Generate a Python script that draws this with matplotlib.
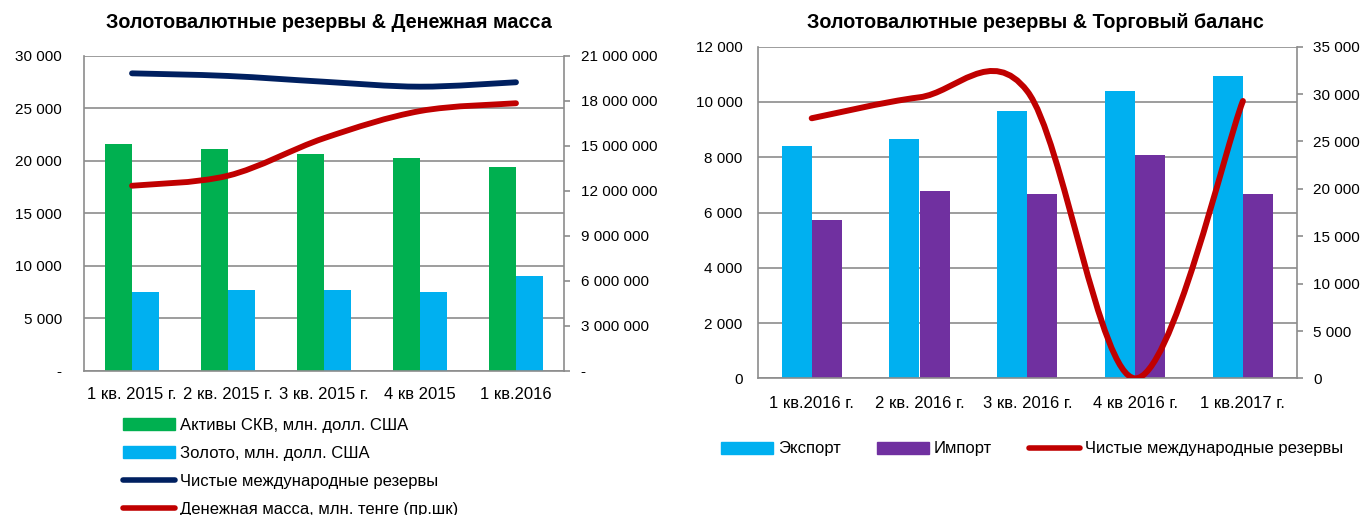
import matplotlib
matplotlib.use("Agg")
import matplotlib.pyplot as plt
from matplotlib.path import Path
from matplotlib.patches import PathPatch, Patch
from matplotlib.lines import Line2D
from matplotlib.ticker import FixedLocator, FuncFormatter

plt.rcParams['font.family'] = ['Liberation Sans', 'DejaVu Sans']

# --- данные: левый график ---
quarters_l = ["1 кв. 2015 г.", "2 кв. 2015 г.", "3 кв. 2015 г.", "4 кв 2015", "1 кв.2016"]
skv_assets = [21560, 21110, 20600, 20290, 19370]
gold = [7450, 7700, 7640, 7520, 8980]
net_reserves_l = [28320, 28070, 27520, 27050, 27470]
money_supply = [12330000, 13000000, 15500000, 17310000, 17830000]

# --- данные: правый график ---
quarters_r = ["1 кв.2016 г.", "2 кв. 2016 г.", "3 кв. 2016 г.", "4 кв 2016 г.", "1 кв.2017 г."]
export = [8410, 8660, 9670, 10410, 10940]
imports = [5730, 6780, 6660, 8070, 6660]
net_reserves_r = [27450, 29660, 30300, 0, 29270]

GREEN = '#00B050'
CYAN = '#00B0F0'
PURPLE = '#7030A0'
NAVY = '#002060'
RED = '#C00000'
GRID = '#8C8C8C'
FS = 11     # подписи осей Y
FS_X = 12   # подписи категорий
FS_LEG = 12
FS_TITLE = 14.2


def smooth_path(xs, ys):
    # сглаженная линия как в Excel: кубические Безье по соседним точкам
    n = len(xs)
    pts = list(zip(xs, ys))
    verts = [pts[0]]
    codes = [Path.MOVETO]
    for i in range(n - 1):
        p0 = pts[max(i - 1, 0)]
        p1 = pts[i]
        p2 = pts[i + 1]
        p3 = pts[min(i + 2, n - 1)]
        c1 = (p1[0] + (p2[0] - p0[0]) / 6, p1[1] + (p2[1] - p0[1]) / 6)
        c2 = (p2[0] - (p3[0] - p1[0]) / 6, p2[1] - (p3[1] - p1[1]) / 6)
        verts += [c1, c2, p2]
        codes += [Path.CURVE4] * 3
    return Path(verts, codes)


def add_smooth(ax, ys, color, lw):
    xs = list(range(len(ys)))
    patch = PathPatch(smooth_path(xs, ys), facecolor='none', edgecolor=color,
                      lw=lw, capstyle='round', joinstyle='round', zorder=5)
    ax.add_patch(patch)


def spaced(zero):
    def f(v, pos):
        if v == 0:
            return zero
        return f"{v:,.0f}".replace(",", " ")
    return FuncFormatter(f)


def style_axes(ax, ax2, pad_left, pad_right, pad_x):
    ax.set_xlim(-0.5, 4.5)
    ax.grid(axis='y', color=GRID, lw=1.2)
    ax.set_axisbelow(True)
    for s in ['top', 'right']:
        ax.spines[s].set_visible(False)
    for s in ['left', 'bottom']:
        ax.spines[s].set_color(GRID)
        ax.spines[s].set_linewidth(1.2)
    for s in ['top', 'left', 'bottom']:
        ax2.spines[s].set_visible(False)
    ax2.spines['right'].set_color(GRID)
    ax2.spines['right'].set_linewidth(1.2)
    ax.tick_params(axis='y', length=0, pad=pad_left, labelsize=FS)
    ax.tick_params(axis='x', length=0, pad=pad_x, labelsize=FS_X)
    ax2.tick_params(axis='y', length=4, width=1.2, color=GRID, pad=pad_right, labelsize=FS)


fig = plt.figure(figsize=(13.68, 5.15), dpi=100)

# ===== левый график =====
ax = fig.add_axes([84 / 1368, 1 - 370.7 / 515, 480 / 1368, 315 / 515])
ax2 = ax.twinx()
x = list(range(len(quarters_l)))
w = 0.28
ax.bar([i - w / 2 for i in x], skv_assets, width=w, color=GREEN, zorder=2)
ax.bar([i + w / 2 for i in x], gold, width=w, color=CYAN, zorder=2)
add_smooth(ax, net_reserves_l, NAVY, 4.2)
add_smooth(ax2, money_supply, RED, 4.2)
ax.set_ylim(0, 30000)
ax.yaxis.set_major_locator(FixedLocator(range(0, 30001, 5000)))
ax.yaxis.set_major_formatter(spaced("-"))
ax2.set_ylim(0, 21000000)
ax2.yaxis.set_major_locator(FixedLocator(range(0, 21000001, 3000000)))
ax2.yaxis.set_major_formatter(spaced("-"))
ax.set_xticks(x)
ax.set_xticklabels(quarters_l)
style_axes(ax, ax2, 16, 8, 12)
ax2.set_xlim(-0.5, 4.5)

fig.text(329 / 1368, 1 - 23 / 515, "Золотовалютные резервы & Денежная масса",
         ha='center', va='center', fontsize=FS_TITLE, fontweight='bold')

h_left = [Patch(color=GREEN), Patch(color=CYAN),
          Line2D([], [], color=NAVY, lw=4, solid_capstyle='round'),
          Line2D([], [], color=RED, lw=4, solid_capstyle='round')]
l_left = ["Активы СКВ, млн. долл. США", "Золото, млн. долл. США",
          "Чистые международные резервы", "Денежная масса, млн. тенге (пр.шк)"]
fig.legend(h_left, l_left, loc='upper left', bbox_to_anchor=(123 / 1368, 1 - 418 / 515),
           frameon=False, fontsize=FS_LEG, borderpad=0, borderaxespad=0,
           handlelength=3.1, handletextpad=0.3, labelspacing=0.78)

# ===== правый график =====
bx = fig.add_axes([757.8 / 1368, 1 - 378.4 / 515, 539 / 1368, 331.7 / 515])
bx2 = bx.twinx()
x = list(range(len(quarters_r)))
bx.bar([i - w / 2 for i in x], export, width=w, color=CYAN, zorder=2)
bx.bar([i + w / 2 for i in x], imports, width=w, color=PURPLE, zorder=2)
add_smooth(bx2, net_reserves_r, RED, 4.3)
bx.set_ylim(0, 12000)
bx.yaxis.set_major_locator(FixedLocator(range(0, 12001, 2000)))
bx.yaxis.set_major_formatter(spaced("0"))
bx2.set_ylim(0, 35000)
bx2.yaxis.set_major_locator(FixedLocator(range(0, 35001, 5000)))
bx2.yaxis.set_major_formatter(spaced("0"))
bx.set_xticks(x)
bx.set_xticklabels(quarters_r)
style_axes(bx, bx2, 11, 8, 13)
bx2.set_xlim(-0.5, 4.5)

fig.text(1035 / 1368, 1 - 23 / 515, "Золотовалютные резервы & Торговый баланс",
         ha='center', va='center', fontsize=FS_TITLE, fontweight='bold')

h_right = [Patch(color=CYAN), Patch(color=PURPLE),
           Line2D([], [], color=RED, lw=4, solid_capstyle='round')]
l_right = ["Экспорт", "Импорт", "Чистые международные резервы"]
fig.legend(h_right, l_right, loc='center left', bbox_to_anchor=(721 / 1368, 1 - 449 / 515),
           ncol=3, frameon=False, fontsize=FS_LEG, borderpad=0, borderaxespad=0,
           handlelength=3.1, handletextpad=0.3, columnspacing=2.2)

fig.savefig("out.png", dpi=100)
